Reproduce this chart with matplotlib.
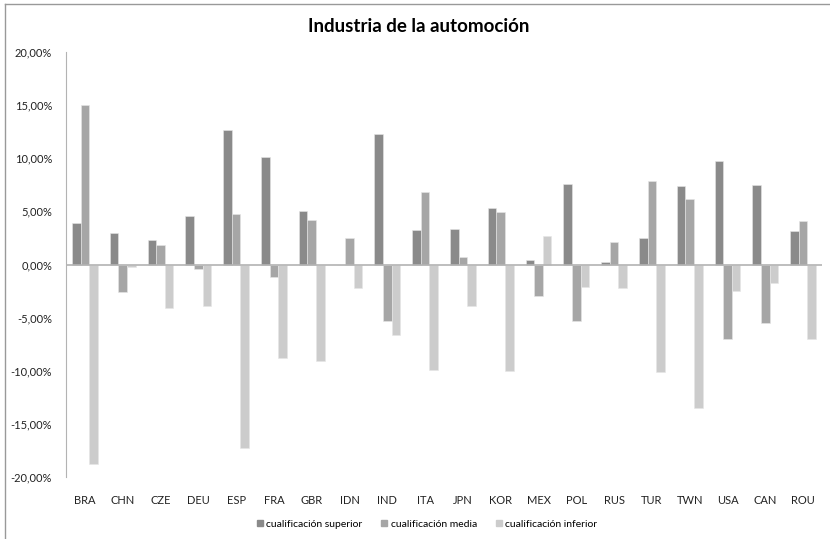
import numpy as np
import matplotlib
matplotlib.use("Agg")
import matplotlib.pyplot as plt
from matplotlib.lines import Line2D
from matplotlib.ticker import FuncFormatter

plt.rcParams['font.family'] = ['Lato', 'DejaVu Sans']

# data (percent)
paises = ['BRA', 'CHN', 'CZE', 'DEU', 'ESP', 'FRA', 'GBR', 'IDN', 'IND', 'ITA',
          'JPN', 'KOR', 'MEX', 'POL', 'RUS', 'TUR', 'TWN', 'USA', 'CAN', 'ROU']
superior = [3.9, 3.0, 2.35, 4.6, 12.7, 10.1, 5.0, -0.05, 12.3, 3.25,
            3.3, 5.3, 0.38, 7.6, 0.28, 2.45, 7.4, 9.7, 7.5, 3.15]
media = [15.0, -2.55, 1.88, -0.47, 4.75, -1.2, 4.2, 2.45, -5.35, 6.8,
         0.75, 4.9, -2.95, -5.3, 2.12, 7.85, 6.2, -7.05, -5.5, 4.05]
inferior = [-18.75, -0.25, -4.08, -3.92, -17.3, -8.8, -9.05, -2.22, -6.6, -9.95,
            -3.92, -10.07, 2.67, -2.16, -2.23, -10.15, -13.5, -2.48, -1.76, -7.05]
series = ['cualificación superior', 'cualificación media', 'cualificación inferior']
colores = ['#8a8a8a', '#a6a6a6', '#cccccc']

fig = plt.figure(figsize=(8.3, 5.39), dpi=100)
ax = fig.add_axes([66 / 830, 1 - 477 / 539, (822 - 66) / 830, (477 - 52) / 539])

x = np.arange(len(paises))
w = 0.227
for k, (vals, c) in enumerate(zip([superior, media, inferior], colores)):
    ax.bar(x + (k - 1) * w, vals, w, color=c, edgecolor='#e6e6e6', linewidth=0.4,
           label=series[k], zorder=2)

ax.set_xlim(-0.5, len(paises) - 0.5)
ax.set_ylim(-20, 20)
ax.set_yticks(np.arange(-20, 21, 5))
ax.yaxis.set_major_formatter(FuncFormatter(lambda v, p: '{:.2f}%'.format(v).replace('.', ',')))
ax.axhline(0, color='#b3b3b3', linewidth=1.2, zorder=3)

ax.set_xticks(x)
ax.set_xticklabels(paises)
ax.tick_params(axis='x', length=0, pad=13, labelsize=8, colors='#222222')
ax.tick_params(axis='y', length=0, pad=10, labelsize=8, colors='#222222')

for s in ['top', 'right', 'bottom']:
    ax.spines[s].set_visible(False)
ax.spines['left'].set_color('#b3b3b3')

fig.text(419 / 830, 1 - 27 / 539, 'Industria de la automoción', ha='center', va='center',
         fontsize=13.5, fontweight='bold')

handles = [Line2D([], [], marker='s', linestyle='none', markersize=4.5, color=c) for c in colores]
fig.legend(handles, series, loc='center', bbox_to_anchor=(426 / 830, 1 - 524 / 539),
           ncol=3, frameon=False, fontsize=7.5, handletextpad=0.1, columnspacing=1.6,
           handlelength=1.0)

# chart area border (top and left edges visible in the reference)
fig.add_artist(Line2D([5 / 830, 1], [1 - 4 / 539, 1 - 4 / 539], color='#999999', linewidth=1))
fig.add_artist(Line2D([5 / 830, 5 / 830], [0, 1 - 4 / 539], color='#999999', linewidth=1))

fig.savefig('out.png', dpi=100)
